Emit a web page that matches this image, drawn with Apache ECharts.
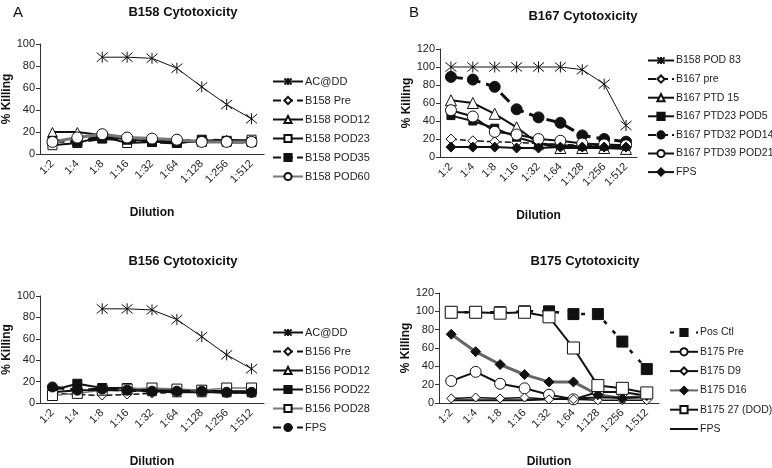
<!DOCTYPE html>
<html>
<head>
    <meta charset="utf-8">
    <title>Cytotoxicity</title>
    <script src="https://cdn.jsdelivr.net/npm/echarts@6/dist/echarts.min.js"></script>
</head>
<body style="margin:0">
    <div id="container" style="width:772px;height:468px;"></div>
    <script type="text/javascript">
        // dilution categories shared by all four panels
        var dilutions = ['1:2', '1:4', '1:8', '1:16', '1:32', '1:64', '1:128', '1:256', '1:512'];

        // panel A - B158
        var aAcdd   = [null, null, 88, 88, 87, 78, 61, 45, 32];
        var aPre    = [12, 12, 16, 13, 12, 12, 12, 11, 11];
        var aPod12  = [20, 20, 17, 13, 12, 12, 12, 13, 12];
        var aPod23  = [8, 10, 16, 10, 11, 11, 11, 11, 13];
        var aPod35  = [12, 11, 14, 13, 11, 10, 13, 12, 11];
        var aPod60  = [11, 15, 18, 15, 14, 13, 11, 11, 11];

        // panel B - B167
        var bPod83  = [100, 100, 100, 100, 100, 100, 97, 81, 35];
        var bPre    = [20, 18, 17, 16, 15, 14, 13, 13, 12];
        var bPtd15  = [63, 60, 48, 33, 15, 10, 10, 10, 9];
        var bPtd23  = [46, 40, 32, 22, 15, 13, 12, 12, 12];
        var bPtd32  = [89, 86, 78, 53, 44, 38, 24, 20, 17];
        var bPtd39  = [52, 45, 28, 25, 20, 18, 15, 14, 13];
        var bFps    = [11, 11, 11, 10, 10, 11, 11, 11, 11];

        // panel C - B156
        var cAcdd   = [null, null, 88, 88, 87, 78, 62, 45, 32];
        var cPre    = [9, 8, 7, 8, 9, 10, 10, 10, 9];
        var cPod12  = [10, 12, 12, 12, 11, 10, 10, 10, 10];
        var cPod22  = [12, 18, 14, 14, 12, 12, 12, 11, 11];
        var cPod28  = [7, 9, 12, 13, 14, 13, 12, 14, 14];
        var cFps    = [15, 12, 13, 12, 11, 11, 11, 10, 10];

        // panel D - B175
        var dPosCtl = [99, 99, 99, 100, 100, 97, 97, 67, 37];
        var dPre    = [24, 34, 21, 16, 9, 4, 12, 12, 8];
        var dD9     = [5, 6, 5, 6, 4, 4, 3, 3, 3];
        var dD16    = [75, 56, 42, 31, 23, 23, 9, 5, 8];
        var dDod    = [99, 99, 98, 99, 94, 60, 19, 16, 11];
        var dFps    = [3, 3, 3, 3, 4, 5, 6, 6, 6];

        var FONT = '"Liberation Sans", Arial, sans-serif';
        var STAR = 'path://M0,0L10,10M10,0L0,10M5,-1L5,11';

        var myChart = echarts.init(document.getElementById('container'));

        // one line series; names get a "#panel" suffix so that legends with
        // the same label (FPS, AC@DD) still pick their own panel's style
        function mk(idx, name, data, st) {
            var lc = st.lc || '#111';
            var item;
            if (!st.sym) item = { color: 'rgba(0,0,0,0)', borderWidth: 0 };   // line only
            else if (st.open) item = { color: '#fff', borderColor: '#111', borderWidth: 1 };
            else if (st.star) item = { color: 'rgba(0,0,0,0)', borderColor: '#111', borderWidth: 1 };
            else item = { color: '#111', borderColor: '#111', borderWidth: 1 };
            return {
                name: name + '#' + idx,
                type: 'line',
                xAxisIndex: idx,
                yAxisIndex: idx,
                data: data,
                symbol: st.sym || 'rect',
                symbolSize: st.size || 9,
                showSymbol: !!st.sym,
                z: st.z || 2,
                lineStyle: { color: lc, width: st.w || 2, type: st.type || 'solid' },
                itemStyle: item,
                emphasis: { disabled: true },
                animation: false
            };
        }

        var grids = [
            { left: 40, top: 44, width: 224, height: 110, outerBoundsMode: 'none' },
            { left: 440, top: 49, width: 197, height: 108, outerBoundsMode: 'none' },
            { left: 40, top: 296, width: 224, height: 107, outerBoundsMode: 'none' },
            { left: 439, top: 293, width: 220, height: 110, outerBoundsMode: 'none' }
        ];
        var yMax = [100, 120, 100, 120];

        var xAxes = grids.map(function (g, i) {
            return {
                type: 'category', gridIndex: i, data: dilutions,
                boundaryGap: true,
                name: 'Dilution', nameLocation: 'middle', nameGap: 53,
                nameTextStyle: { fontFamily: FONT, fontWeight: 'bold', fontSize: 12, color: '#111' },
                axisLine: { lineStyle: { color: '#333', width: 1 } },
                axisTick: { interval: 0, length: 4, lineStyle: { color: '#333' } },
                axisLabel: { interval: 0, rotate: 45, margin: 8, fontFamily: FONT, fontSize: 11, color: '#222' }
            };
        });
        var yAxes = grids.map(function (g, i) {
            return {
                type: 'value', gridIndex: i, min: 0, max: yMax[i], interval: 20,
                name: '% Killing', nameLocation: 'middle', nameGap: 25, nameRotate: 90,
                nameTextStyle: { fontFamily: FONT, fontWeight: 'bold', fontSize: 12, color: '#111' },
                splitLine: { show: false },
                axisLine: { show: true, lineStyle: { color: '#333', width: 1 } },
                axisTick: { show: true, length: 4, lineStyle: { color: '#333' } },
                axisLabel: { margin: 5, fontFamily: FONT, fontSize: 11, color: '#222' }
            };
        });

        var series = [
            mk(0, 'AC@DD', aAcdd, { sym: STAR, star: true, size: 11, w: 1 }),
            mk(0, 'B158 Pre', aPre, { sym: 'diamond', open: true, w: 3, type: 'dashed' }),
            mk(0, 'B158 POD12', aPod12, { sym: 'triangle', open: true, w: 2 }),
            mk(0, 'B158 POD23', aPod23, { sym: 'rect', open: true, w: 2 }),
            mk(0, 'B158 POD35', aPod35, { sym: 'rect', w: 3, type: 'dashed' }),
            mk(0, 'B158 POD60', aPod60, { sym: 'circle', open: true, size: 11, w: 3, lc: '#777', z: 3 }),

            mk(1, 'B158 POD 83', bPod83, { sym: STAR, star: true, size: 11, w: 1 }),
            mk(1, 'B167 pre', bPre, { sym: 'diamond', open: true, size: 10, w: 1.5, type: 'dashed' }),
            mk(1, 'B167 PTD 15', bPtd15, { sym: 'triangle', open: true, size: 11, w: 2 }),
            mk(1, 'B167 PTD23 POD5', bPtd23, { sym: 'rect', size: 8, w: 2 }),
            mk(1, 'B167 PTD32 POD14', bPtd32, { sym: 'circle', size: 11, w: 3, type: 'dashed' }),
            mk(1, 'B167 PTD39 POD21', bPtd39, { sym: 'circle', open: true, size: 11, w: 2 }),
            mk(1, 'FPS', bFps, { sym: 'diamond', size: 10, w: 2 }),

            mk(2, 'AC@DD', cAcdd, { sym: STAR, star: true, size: 11, w: 1 }),
            mk(2, 'B156 Pre', cPre, { sym: 'diamond', open: true, w: 1.5, type: 'dashed' }),
            mk(2, 'B156 POD12', cPod12, { sym: 'triangle', open: true, w: 2 }),
            mk(2, 'B156 POD22', cPod22, { sym: 'rect', w: 2 }),
            mk(2, 'B156 POD28', cPod28, { sym: 'rect', open: true, size: 10, w: 1.5, lc: '#777' }),
            mk(2, 'FPS', cFps, { sym: 'circle', size: 10, w: 3, type: 'dashed', z: 3 }),

            mk(3, 'Pos Ctl', dPosCtl, { sym: 'rect', size: 11, w: 2.5, type: [4, 9] }),
            mk(3, 'B175 Pre', dPre, { sym: 'circle', open: true, size: 11, w: 2 }),
            mk(3, 'B175 D9', dD9, { sym: 'diamond', open: true, size: 9, w: 1.5 }),
            mk(3, 'B175 D16', dD16, { sym: 'diamond', size: 10, w: 3, lc: '#666' }),
            mk(3, 'B175 27 (DOD)', dDod, { sym: 'rect', open: true, size: 12, w: 2, z: 3 }),
            mk(3, 'FPS', dFps, { w: 2 })
        ];

        function legendNames(idx) {
            return series.filter(function (s) { return s.xAxisIndex === idx; })
                         .map(function (s) { return s.name; });
        }
        var legendPos = [
            { left: 272, top: 76, itemGap: 8, itemWidth: 30, fs: 11 },
            { left: 647, top: 55, itemGap: 7.6, itemWidth: 26, fs: 10.5 },
            { left: 272, top: 327, itemGap: 8, itemWidth: 30, fs: 11 },
            { left: 669, top: 327, itemGap: 8.3, itemWidth: 28, fs: 10.5 }
        ];
        var legends = legendPos.map(function (p, i) {
            return {
                orient: 'vertical', left: p.left, top: p.top, itemGap: p.itemGap,
                itemWidth: p.itemWidth, itemHeight: 9, padding: 0, selectedMode: false,
                data: legendNames(i),
                formatter: function (name) { return name.split('#')[0]; },
                textStyle: { fontFamily: FONT, fontSize: p.fs, color: '#222', padding: [0, 0, 0, -3] }
            };
        });

        var titleStyle = { fontFamily: FONT, fontWeight: 'bold', fontSize: 13, color: '#111' };
        var option = {
            backgroundColor: '#fff',
            title: [
                { text: 'B158 Cytotoxicity', left: 178, top: 1, textAlign: 'center', textStyle: titleStyle },
                { text: 'B167 Cytotoxicity', left: 578, top: 5, textAlign: 'center', textStyle: titleStyle },
                { text: 'B156 Cytotoxicity', left: 178, top: 250, textAlign: 'center', textStyle: titleStyle },
                { text: 'B175 Cytotoxicity', left: 580, top: 250, textAlign: 'center', textStyle: titleStyle },
                { text: 'A', left: 8, top: 0, textStyle: { fontFamily: FONT, fontWeight: 'normal', fontSize: 15, color: '#111' } },
                { text: 'B', left: 404, top: 0, textStyle: { fontFamily: FONT, fontWeight: 'normal', fontSize: 15, color: '#111' } }
            ],
            legend: legends,
            grid: grids,
            xAxis: xAxes,
            yAxis: yAxes,
            series: series
        };

        myChart.setOption(option);
    </script>
</body>
</html>
